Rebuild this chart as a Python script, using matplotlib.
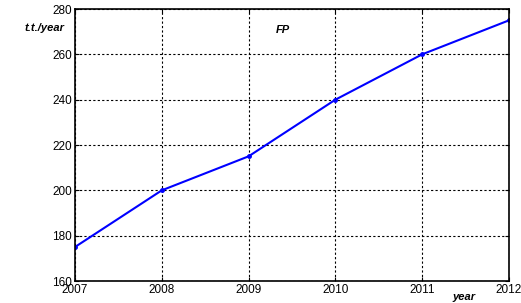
import matplotlib
matplotlib.use("Agg")
import matplotlib.pyplot as plt

years = [2007, 2008, 2009, 2010, 2011, 2012]
values = [175, 200, 215, 240, 260, 275]
yticks = [160, 180, 200, 220, 240, 260, 280]

plt.rcParams['font.family'] = ['Liberation Sans', 'DejaVu Sans']
fig = plt.figure(figsize=(5.21, 3.03), dpi=100)
ax = fig.add_axes([75/521, 1-281/303, (509-75)/521, (281-9)/303])
ax.plot(years, values, color='#0000ff', lw=1.5, marker='o', ms=2.5)
ax.set_xlim(2007, 2012)
ax.set_ylim(160, 280)
ax.set_xticks(years)
ax.set_yticks(yticks)
ax.grid(True, color='black', linestyle=(0, (2, 2)), lw=0.8)
ax.tick_params(direction='in', top=True, right=True, labelsize=8.5, length=3, pad=2)
for s in ax.spines.values():
    s.set_linewidth(1.2)
ax.text(0.479, 0.923, 'FP', transform=ax.transAxes, ha='center', va='center',
        fontsize=8, fontweight='bold', fontstyle='italic')
fig.text(45/521, 1-28/303, 't.t./year', ha='center', va='center',
         fontsize=8, fontweight='bold', fontstyle='italic')
fig.text(464/521, 1-297/303, 'year', ha='center', va='center',
         fontsize=8, fontweight='bold', fontstyle='italic')
fig.savefig('out.png', dpi=100)
